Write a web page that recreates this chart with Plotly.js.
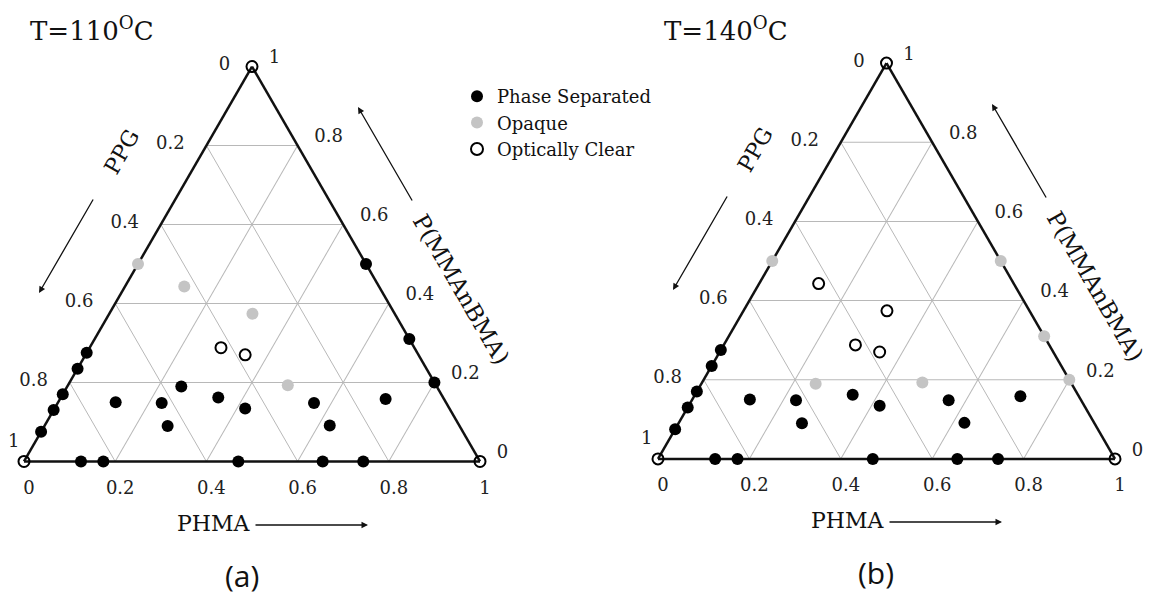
<!DOCTYPE html>
<html>
<head>
<meta charset="utf-8">
<script src="https://cdn.plot.ly/plotly-3.0.1.min.js"></script>
<style>html,body{margin:0;padding:0;background:#fff;}#chart{width:1158px;height:601px;}</style>
</head>
<body>
<div id="chart"></div>
<script>
// Compositions (mole fractions): a = P(MMAnBMA) (top vertex), b = PPG (bottom-left), c = PHMA (bottom-right)
var mmaFrac  = [1, 0, 0, 0.50, 0.275, 0.235, 0.17, 0.13, 0.075, 0.50, 0.31, 0.20, 0, 0, 0, 0, 0,
                0.443, 0.374, 0.193, 0.288, 0.27, 0.15, 0.19, 0.148, 0.09, 0.162, 0.134, 0.148, 0.091, 0.158];
var ppgFrac  = [0, 1, 0, 0.50, 0.725, 0.765, 0.83, 0.87, 0.925, 0, 0, 0, 0.875, 0.826, 0.53, 0.345, 0.256,
                0.427, 0.312, 0.325, 0.424, 0.38, 0.724, 0.56, 0.624, 0.64, 0.493, 0.448, 0.29, 0.284, 0.128];
var phmaFrac = [0, 0, 1, 0, 0, 0, 0, 0, 0, 0.50, 0.69, 0.80, 0.125, 0.174, 0.47, 0.655, 0.744,
                0.13, 0.314, 0.482, 0.288, 0.35, 0.126, 0.25, 0.228, 0.27, 0.345, 0.418, 0.562, 0.625, 0.714];
// S = Phase Separated, O = Opaque, C = Optically Clear
var state110 = ['C','C','C','O','S','S','S','S','S','S','S','S','S','S','S','S','S',
                'O','O','O','C','C','S','S','S','S','S','S','S','S','S'];
var state140 = ['C','C','C','O','S','S','S','S','S','O','O','O','S','S','S','S','S',
                'C','C','O','C','C','S','O','S','S','S','S','S','S','S'];
var categories = ['S','O','C'];
var categoryNames = ['Phase Separated','Opaque','Optically Clear'];
// tick labels: each edge is labelled with the fraction of the component it increases toward
var tickVals  = [0, 0.2, 0.4, 0.6, 0.8, 1];
var tickText  = ['1', '0.8', '0.6', '0.4', '0.2', '0'];
var aTickVals = [0.2, 0.4, 0.6, 0.8, 1];          // PPG along left edge (a=0 label "1" placed by the vertex)
var aTickText = ['0.8', '0.6', '0.4', '0.2', '0'];
var cornerLabel = '1';
var panelTitles = ['T=110<sup>O</sup>C', 'T=140<sup>O</sup>C'];
var panelLabels = ['(a)', '(b)'];

var SERIF = 'DejaVu Serif, serif';
var markerStyles = {
  S: {symbol:'circle', size:12, color:'#000', line:{width:0}},
  O: {symbol:'circle', size:12, color:'#c4c4c4', line:{width:0}},
  C: {symbol:'circle-open', size:11, color:'#000', line:{width:2, color:'#000'}}
};

var traces = [];
[state110, state140].forEach(function(states, p){
  categories.forEach(function(cat, k){
    var a=[], b=[], c=[];
    states.forEach(function(s, i){ if(s===cat){ a.push(mmaFrac[i]); b.push(ppgFrac[i]); c.push(phmaFrac[i]); } });
    traces.push({
      type:'scatterternary', mode:'markers', subplot: p===0 ? 'ternary' : 'ternary2',
      a:a, b:b, c:c, name: categoryNames[k], legendgroup: cat, showlegend: p===0,
      marker: markerStyles[cat], cliponaxis:false, hoverinfo:'skip'
    });
  });
});

function ax(len, vals, text){
  return {tickvals:vals, ticktext:text, ticks:'outside', ticklen:len, tickcolor:'rgba(0,0,0,0)',
    showline:true, linecolor:'#111', linewidth:2.5,
    showgrid:true, gridcolor:'#b8b8b8', gridwidth:1, layer:'below traces',
    tickfont:{family:SERIF, size:18, color:'#222'}, title:{text:''}};
}
function tern(x0,x1,yTop,yBot){
  return {domain:{x:[x0/1158, x1/1158], y:[(601-yBot)/601, (601-yTop)/601]}, sum:1, bgcolor:'rgba(0,0,0,0)',
    aaxis:ax(18, aTickVals, aTickText),
    baxis:ax(10, tickVals, tickText),
    caxis:ax(8, tickVals, tickText.map(function(t){return '\u2002' + t;}))};
}

var anns = [];
[0, 1].forEach(function(p){
  var dx = p*634, dy = -p*3;
  function X(v){return (v+dx)/1158;} function Y(v){return 1-(v+dy)/601;}
  var common = {xref:'paper', yref:'paper', xanchor:'center', yanchor:'middle'};
  function A(o){ return Object.assign({}, common, o); }
  anns.push(A({text:panelTitles[p], x:(28+dx)/1158, y:1-29/601, xanchor:'left',
    showarrow:false, font:{family:SERIF, size:26, color:'#111'}}));
  anns.push(A({text:cornerLabel, x:X(13), y:Y(440), showarrow:false,
    font:{family:SERIF, size:18, color:'#222'}}));
  anns.push(A({text:'PPG', x:X(121), y:Y(152), textangle:-60, showarrow:false,
    font:{family:SERIF, size:22, color:'#111'}}));
  anns.push(A({text:'', x:X(39), y:Y(293), showarrow:true, ax:55, ay:-95,
    arrowhead:2, arrowsize:1, arrowwidth:1.3, arrowcolor:'#111'}));
  anns.push(A({text:'P(MMAnBMA)', x:X(461), y:Y(289), textangle:60, showarrow:false,
    font:{family:SERIF, size:23, color:'#111'}}));
  anns.push(A({text:'', x:X(358), y:Y(107), showarrow:true, ax:55, ay:95,
    arrowhead:2, arrowsize:1, arrowwidth:1.3, arrowcolor:'#111'}));
  anns.push(A({text:'PHMA', x:X(175), y:Y(523), xanchor:'left', showarrow:false,
    font:{family:SERIF, size:22, color:'#111'}}));
  anns.push(A({text:'', x:X(368), y:Y(525), showarrow:true, ax:-114, ay:0,
    arrowhead:2, arrowsize:1, arrowwidth:1.3, arrowcolor:'#111'}));
  anns.push(A({text:panelLabels[p], x:X(242), y:Y(575), showarrow:false,
    font:{family:'Open Sans, DejaVu Sans, sans-serif', size:30, color:'#111'}}));
});

var layout = {
  width:1158, height:601, margin:{l:0, r:0, t:0, b:0}, paper_bgcolor:'#fff',
  showlegend:true,
  legend:{x:457/1158, y:1-78/601, xanchor:'left', yanchor:'top', bgcolor:'rgba(0,0,0,0)',
    font:{family:SERIF, size:18, color:'#111'}, tracegroupgap:0, itemsizing:'constant'},
  ternary: tern(24, 480, 66, 462),
  ternary2: tern(658, 1115, 63, 459),
  annotations: anns
};
Plotly.newPlot('chart', traces, layout, {displayModeBar:false, staticPlot:true});
</script>
</body>
</html>
